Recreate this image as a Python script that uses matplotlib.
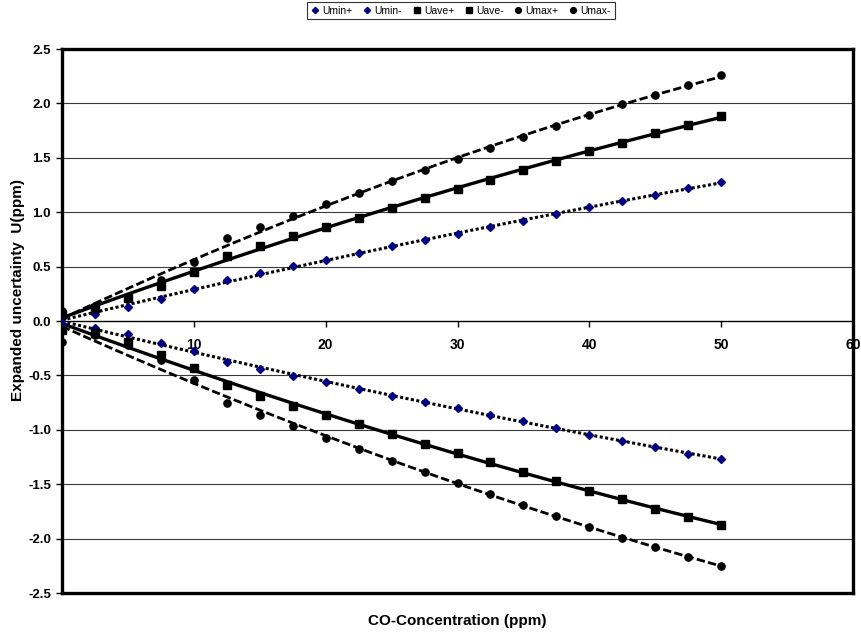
import numpy as np
import matplotlib
matplotlib.use("Agg")
import matplotlib.pyplot as plt
from matplotlib.lines import Line2D

plt.rcParams['font.family'] = ['Liberation Sans', 'DejaVu Sans']

# CO concentration steps (ppm)
conc = [0, 2.5, 5, 7.5, 10, 12.5, 15, 17.5, 20, 22.5, 25,
        27.5, 30, 32.5, 35, 37.5, 40, 42.5, 45, 47.5, 50]

# Expanded uncertainty bounds (ppm)
u_min_plus = [0.03, 0.06, 0.13, 0.205, 0.29, 0.38, 0.44, 0.505, 0.56, 0.625, 0.685,
              0.74, 0.80, 0.86, 0.92, 0.98, 1.05, 1.106, 1.16, 1.22, 1.275]
u_min_minus = [-0.03, -0.06, -0.12, -0.20, -0.28, -0.38, -0.44, -0.505, -0.56, -0.625, -0.685,
               -0.74, -0.80, -0.86, -0.92, -0.98, -1.05, -1.106, -1.16, -1.22, -1.27]
u_ave_plus = [0.06, 0.12, 0.21, 0.325, 0.45, 0.60, 0.69, 0.78, 0.867, 0.95, 1.04,
              1.13, 1.215, 1.30, 1.385, 1.47, 1.565, 1.64, 1.725, 1.80, 1.884]
u_ave_minus = [-0.08, -0.11, -0.19, -0.31, -0.435, -0.59, -0.69, -0.78, -0.867, -0.95, -1.04,
               -1.13, -1.215, -1.30, -1.385, -1.47, -1.565, -1.64, -1.725, -1.80, -1.875]
u_max_plus = [0.09, 0.14, 0.22, 0.375, 0.545, 0.76, 0.86, 0.968, 1.075, 1.18, 1.285,
              1.385, 1.49, 1.59, 1.69, 1.79, 1.893, 1.99, 2.08, 2.17, 2.258]
u_max_minus = [-0.19, -0.13, -0.22, -0.36, -0.54, -0.75, -0.86, -0.968, -1.075, -1.18, -1.285,
               -1.385, -1.49, -1.59, -1.69, -1.79, -1.893, -1.99, -2.08, -2.17, -2.25]

series_names = ["Umin+", "Umin-", "Uave+", "Uave-", "Umax+", "Umax-"]
series_values = [u_min_plus, u_min_minus, u_ave_plus, u_ave_minus, u_max_plus, u_max_minus]

y_ticks = [2.5, 2.0, 1.5, 1.0, 0.5, 0.0, -0.5, -1.0, -1.5, -2.0, -2.5]
x_ticks = [10, 20, 30, 40, 50, 60]

NAVY = "#000080"
marker_style = {
    "Umin": dict(marker="D", color=NAVY, ms=4.0),
    "Uave": dict(marker="s", color="black", ms=5.2),
    "Umax": dict(marker="o", color="black", ms=5.2),
}
trend_style = {
    "Umin": dict(lw=2.2, dashes=(1.0, 0.8)),
    "Uave": dict(lw=2.4, linestyle="-"),
    "Umax": dict(lw=2.0, dashes=(3.0, 1.2)),
}

W, H = 861, 632
fig = plt.figure(figsize=(W / 100, H / 100), dpi=100)
ax = fig.add_axes([62 / W, 1 - 593 / H, (853 - 62) / W, (593 - 49) / H])

ax.set_xlim(0, 60)
ax.set_ylim(-2.5, 2.5)

# horizontal gridlines
for yv in y_ticks:
    if yv not in (0.0, 2.5, -2.5):
        ax.axhline(yv, color="#3a3a3a", lw=0.8, zorder=1)

xs = np.array(conc, dtype=float)
xfit = np.linspace(0, 50, 300)
handles = []
for name, vals in zip(series_names, series_values):
    key = name[:4]
    coeffs = np.polyfit(xs, np.array(vals), 2)
    ax.plot(xfit, np.polyval(coeffs, xfit), color="black", zorder=2,
            solid_capstyle="butt", dash_capstyle="butt", **trend_style[key])
    ms = marker_style[key]
    ax.plot(xs, vals, linestyle="none", marker=ms["marker"], ms=ms["ms"],
            mfc=ms["color"], mec=ms["color"], zorder=3)
    handles.append(Line2D([], [], linestyle="none", marker=ms["marker"],
                          ms=ms["ms"] * 0.8, mfc=ms["color"], mec=ms["color"]))

# frame and axis at zero
for side in ("left", "top", "right"):
    ax.spines[side].set_linewidth(2.4)
    ax.spines[side].set_color("black")
ax.spines["bottom"].set_position(("data", 0))
ax.spines["bottom"].set_linewidth(1.0)
ax.axhline(-2.5, color="black", lw=2.4, clip_on=False, zorder=6)

ax.set_xticks(x_ticks)
ax.set_xticklabels([str(v) for v in x_ticks], fontsize=10, fontweight="bold")
ax.set_yticks(y_ticks)
ax.set_yticklabels([f"{v:.1f}" for v in y_ticks], fontsize=9.5, fontweight="bold")
ax.tick_params(axis="x", direction="out", length=4, width=1.0, pad=8)
ax.tick_params(axis="y", direction="out", length=4, width=1.0, pad=4)

ax.set_xlabel("CO-Concentration (ppm)", fontsize=11, fontweight="bold")
ax.xaxis.set_label_coords(0.5, -0.038)
ax.set_ylabel("Expanded uncertainty  U(ppm)", fontsize=11, fontweight="bold")
ax.yaxis.set_label_coords(-0.047, 0.557)

leg = fig.legend(handles, series_names, loc="upper center",
                 bbox_to_anchor=(461 / W, 1 - 2 / H), ncol=6, fontsize=7.5,
                 frameon=True, fancybox=False, edgecolor="black",
                 handlelength=0.8, handletextpad=0.3, columnspacing=1.0,
                 borderpad=0.35, borderaxespad=0)
leg.get_frame().set_linewidth(0.8)

fig.savefig("out.png", dpi=100)
